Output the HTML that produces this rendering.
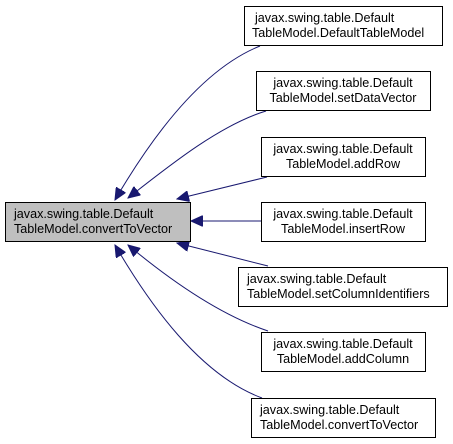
<!DOCTYPE html>
<html><head><meta charset="utf-8"><style>
body{margin:0;background:#fff;width:453px;height:444px;overflow:hidden}
svg{display:block}
text{font-family:"Liberation Sans",Arial,sans-serif;font-size:12.6px;fill:#000}
</style></head><body>
<svg width="453" height="444" viewBox="0 0 453 444">
<defs><marker id="a" markerWidth="13" markerHeight="11" refX="12" refY="5.5" orient="auto" markerUnits="userSpaceOnUse"><path d="M0,0 L12,5.5 L0,11 z" fill="#191970" stroke="#191970"/></marker></defs>
<g fill="none" stroke="#191970" stroke-width="1">
<path d="M260,46 C200,70 150,140 115,200" marker-end="url(#a)"/>
<path d="M266,111 C220,125 170,165 128,198" marker-end="url(#a)"/>
<path d="M267,177 L177,199" marker-end="url(#a)"/>
<path d="M261,221 L191,221" marker-end="url(#a)"/>
<path d="M268,266 L177,243" marker-end="url(#a)"/>
<path d="M268,331 C220,315 170,280 128,245" marker-end="url(#a)"/>
<path d="M262,398 C200,375 150,305 115,245" marker-end="url(#a)"/>
</g>
<g stroke="#000" stroke-width="1">
<rect x="5.5" y="202.5" width="185" height="39" fill="#bfbfbf"/>
<rect x="244.5" y="6.5" width="198" height="39" fill="#fff"/>
<rect x="256.5" y="71.5" width="174" height="39" fill="#fff"/>
<rect x="261.5" y="137.5" width="164" height="39" fill="#fff"/>
<rect x="261.5" y="202.5" width="164" height="39" fill="#fff"/>
<rect x="238.5" y="267.5" width="209" height="39" fill="#fff"/>
<rect x="261.5" y="332.5" width="164" height="39" fill="#fff"/>
<rect x="251.5" y="398.5" width="184" height="39" fill="#fff"/>
</g>
<text x="14" y="218">javax.swing.table.Default</text>
<text x="14" y="233">TableModel.convertToVector</text>
<text x="255" y="22">javax.swing.table.Default</text>
<text x="252" y="37">TableModel.DefaultTableModel</text>
<g text-anchor="middle">
<text x="343" y="87">javax.swing.table.Default</text>
<text x="343" y="102">TableModel.setDataVector</text>
<text x="343" y="153">javax.swing.table.Default</text>
<text x="343" y="168">TableModel.addRow</text>
<text x="343" y="218">javax.swing.table.Default</text>
<text x="343" y="233">TableModel.insertRow</text>
<text x="343" y="348">javax.swing.table.Default</text>
<text x="343" y="363">TableModel.addColumn</text>
</g>
<text x="247" y="283">javax.swing.table.Default</text>
<text x="247" y="298">TableModel.setColumnIdentifiers</text>
<text x="260" y="414">javax.swing.table.Default</text>
<text x="260" y="429">TableModel.convertToVector</text>
</svg>
</body></html>
